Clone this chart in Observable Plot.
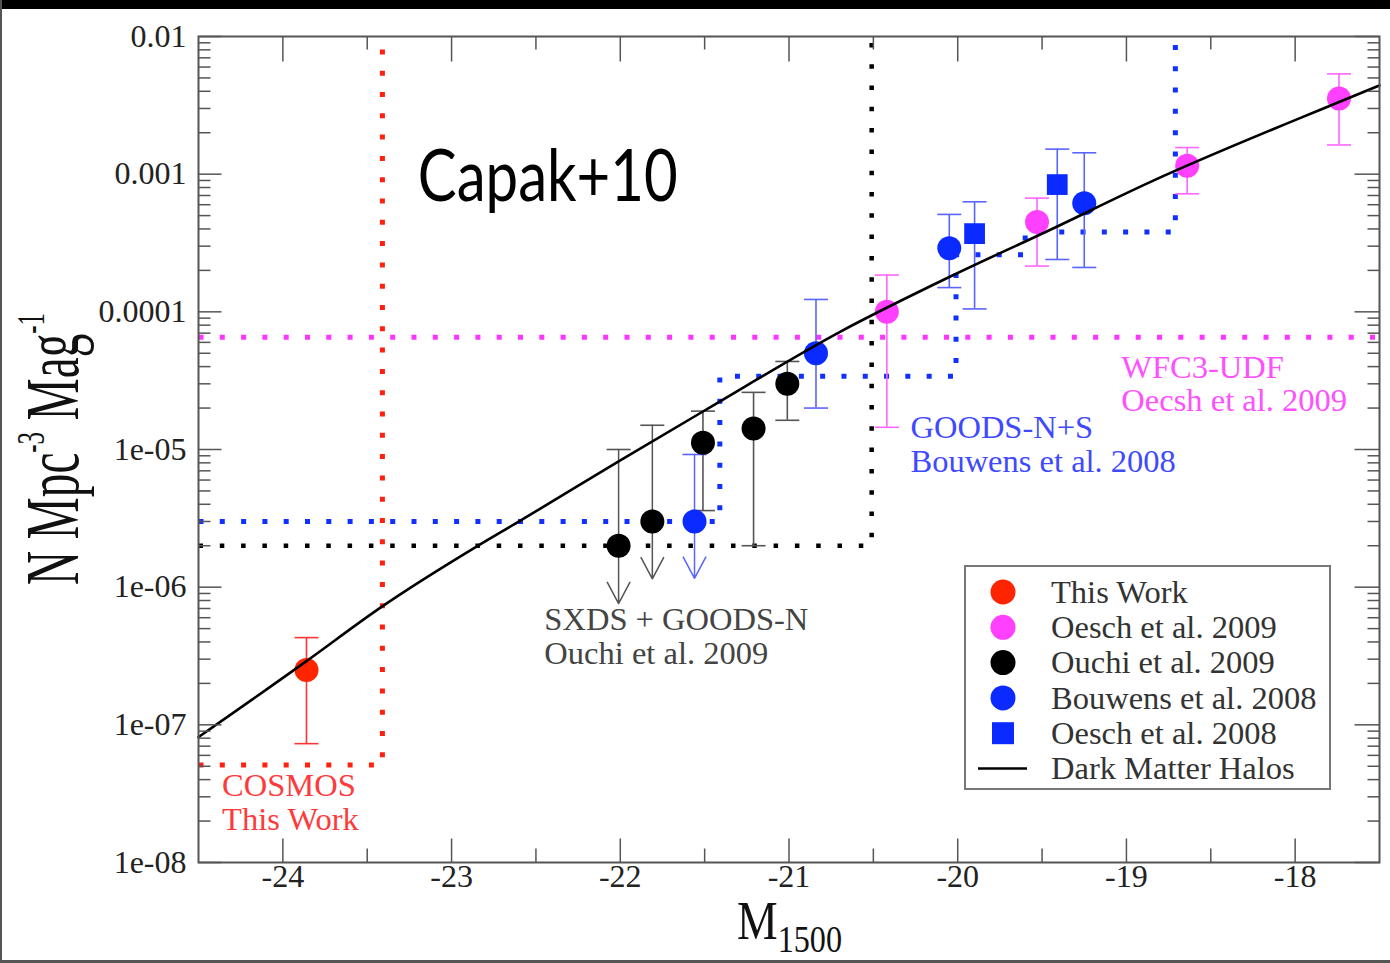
<!DOCTYPE html>
<html><head><meta charset="utf-8">
<script src="https://cdn.jsdelivr.net/npm/d3@7"></script>
<script src="https://cdn.jsdelivr.net/npm/@observablehq/plot@0.6"></script>
<style>
html,body{margin:0;padding:0;background:#fff;}
#wrap{position:relative;width:1390px;height:963px;overflow:hidden;background:#fff;}
#wrap svg{position:absolute;left:0;top:0;}
.deco{position:absolute;}
</style></head><body>
<div id="wrap"></div>
<script>
// ---------------- data ----------------
// This Work (COSMOS)
const thisWorkM  = [-23.86];
const thisWorkN  = [2.5e-7];
const thisWorkLo = [7.3e-8];
const thisWorkHi = [4.3e-7];

// Oesch et al. 2009 (WFC3-UDF)
const oesch09M  = [-20.42, -19.53, -18.64, -17.74];
const oesch09N  = [1.0e-4, 4.5e-4, 1.15e-3, 3.55e-3];
const oesch09Lo = [1.45e-5, 2.15e-4, 7.2e-4, 1.63e-3];
const oesch09Hi = [1.85e-4, 6.7e-4, 1.56e-3, 5.35e-3];

// Ouchi et al. 2009 (SXDS + GOODS-N)
const ouchiM     = [-22.01, -21.81, -21.51, -21.21, -21.01];
const ouchiN     = [2.0e-6, 3.0e-6, 1.12e-5, 1.42e-5, 3.0e-5];
const ouchiLo    = [null, null, 3.6e-6, 2.0e-6, 1.63e-5];
const ouchiHi    = [1.0e-5, 1.5e-5, 1.9e-5, 2.6e-5, 4.36e-5];
const ouchiLimit = [7.6e-7, 1.15e-6, null, null, null];

// Bouwens et al. 2008 (GOODS-N+S)
const bouwensM     = [-21.56, -20.84, -20.05, -19.25];
const bouwensN     = [3.0e-6, 5.0e-5, 2.9e-4, 6.15e-4];
const bouwensLo    = [null, 2.0e-5, 1.5e-4, 2.1e-4];
const bouwensHi    = [9.2e-6, 1.23e-4, 5.1e-4, 1.43e-3];
const bouwensLimit = [1.16e-6, null, null, null];

// Oesch et al. 2008
const oesch08M  = [-19.90, -19.41];
const oesch08N  = [3.7e-4, 8.4e-4];
const oesch08Lo = [1.05e-4, 2.4e-4];
const oesch08Hi = [6.3e-4, 1.52e-3];

// Dark matter halos model curve
const haloM = [-24.5, -23.86, -23.43, -22.84, -22.6, -22.0, -21.5, -20.7, -20.05, -19.46, -18.86, -17.75, -17.5];
const haloN = [8.15e-8, 2.9e-7, 6.98e-7, 2.01e-6, 3.0e-6, 8.34e-6, 1.92e-5, 7.13e-5, 1.79e-4, 3.9e-4, 8.75e-4, 3.3e-3, 4.41e-3];

// Survey limits (dotted)
const cosmosM = [-24.5, -23.41, -23.41];
const cosmosN = [5.1e-8, 5.1e-8, 1e-2];
const udfM = [-24.5, -17.5];
const udfN = [6.55e-5, 6.55e-5];
const sxdsM = [-24.5, -20.51, -20.51];
const sxdsN = [2.0e-6, 2.0e-6, 1e-2];
const goodsM = [-24.5, -21.41, -21.41, -20.01, -20.01, -19.6, -19.6, -18.71, -18.71];
const goodsN = [3.0e-6, 3.0e-6, 3.4e-5, 3.4e-5, 2.6e-4, 2.6e-4, 3.8e-4, 3.8e-4, 1e-2];

// Axis ticks
const xTicks = [-24, -23, -22, -21, -20, -19, -18];
const xMinorTicks = [-23.5, -22.5, -21.5, -20.5, -19.5, -18.5];
const yTicks = [1e-8, 1e-7, 1e-6, 1e-5, 1e-4, 1e-3, 1e-2];
const yTickLabels = ["1e-08", "1e-07", "1e-06", "1e-05", "0.0001", "0.001", "0.01"];

// Annotations
const noteText = ["COSMOS\nThis Work", "SXDS + GOODS-N\nOuchi et al. 2009", "GOODS-N+S\nBouwens et al. 2008", "WFC3-UDF\nOecsh et al. 2009"];
const noteM = [-24.36, -22.45, -20.28, -19.03];
const noteN = [1.73e-8, 2.78e-7, 6.87e-6, 1.9e-5];
const titleText = ["Capak+10"];
const titleM = [-23.2];
const titleN = [6.34e-4];

// Legend
const legendLabels = ["This Work", "Oesch et al. 2009", "Ouchi et al. 2009", "Bouwens et al. 2008", "Oesch et al. 2008", "Dark Matter Halos"];

// ---------------- styles ----------------
const C = {
  red: "#ff2400", redBar: "#ff3535", redText: "#ff3a3a",
  mag: "#ff40ff", magBar: "#ff66ff", magText: "#ff50ff",
  blk: "#000000", blkBar: "#555555", blkText: "#444444",
  blu: "#0a2aff", bluBar: "#5a64ff", bluText: "#3f4aff",
  axis: "#555555"
};
const serif = "'Liberation Serif', 'Times New Roman', serif";

// ---------------- helpers ----------------
const rows = (M, N, lo, hi, lim) => M.map((m, i) => ({M: m, N: N[i], lo: lo ? lo[i] : null, hi: hi ? hi[i] : null, lim: lim ? lim[i] : null}));
const line = (M, N) => M.map((m, i) => ({M: m, N: N[i]}));
const seg = (x1, y1, x2, y2) => ({draw(ctx) { ctx.moveTo(x1, y1); ctx.lineTo(x2, y2); }});
const cap = seg(-12, 0, 12, 0);

const series = [
  {data: rows(thisWorkM, thisWorkN, thisWorkLo, thisWorkHi, null), fill: C.red, bar: C.redBar, symbol: "circle"},
  {data: rows(oesch09M, oesch09N, oesch09Lo, oesch09Hi, null), fill: C.mag, bar: C.magBar, symbol: "circle"},
  {data: rows(ouchiM, ouchiN, ouchiLo, ouchiHi, ouchiLimit), fill: C.blk, bar: C.blkBar, symbol: "circle"},
  {data: rows(bouwensM, bouwensN, bouwensLo, bouwensHi, bouwensLimit), fill: C.blu, bar: C.bluBar, symbol: "circle"},
  {data: rows(oesch08M, oesch08N, oesch08Lo, oesch08Hi, null), fill: C.blu, bar: C.bluBar, symbol: "square"}
];

const dotted = {strokeWidth: 5, strokeDasharray: "5,16.3", strokeLinecap: "butt", strokeLinejoin: "miter"};

const marks = [
  Plot.line(line(udfM, udfN), {x: "M", y: "N", stroke: "#ff33ff", ...dotted}),
  Plot.line(line(sxdsM, sxdsN), {x: "M", y: "N", stroke: "#000", strokeWidth: 4.5, strokeDasharray: "4.5,16.8", strokeLinecap: "butt", strokeLinejoin: "miter"}),
  Plot.line(line(goodsM, goodsN), {x: "M", y: "N", stroke: "#1030ff", ...dotted}),
  Plot.line(line(cosmosM, cosmosN), {x: "M", y: "N", stroke: "#ff2010", ...dotted})
];

for (const s of series) {
  const withLo = s.data.filter(d => d.lo != null);
  const withLim = s.data.filter(d => d.lim != null);
  marks.push(
    Plot.ruleX(withLo, {x: "M", y1: "lo", y2: "hi", stroke: s.bar, strokeWidth: 1.6}),
    Plot.arrow(withLim, {x1: "M", x2: "M", y1: "hi", y2: "lim", stroke: s.bar, strokeWidth: 1.5, headLength: 24, headAngle: 56}),
    Plot.dot(s.data, {x: "M", y: "hi", symbol: cap, stroke: s.bar, strokeWidth: 1.6, fill: "none"}),
    Plot.dot(withLo, {x: "M", y: "lo", symbol: cap, stroke: s.bar, strokeWidth: 1.6, fill: "none"})
  );
}
for (const s of series) {
  marks.push(Plot.dot(s.data, {x: "M", y: "N", symbol: s.symbol, r: s.symbol === "square" ? 11.7 : 12, fill: s.fill, stroke: "none"}));
}
marks.push(
  Plot.line(line(haloM, haloN), {x: "M", y: "N", stroke: "#000", strokeWidth: 2.6, curve: "monotone-x"})
);

// annotations
const noteColors = [C.redText, C.blkText, C.bluText, C.magText];
noteText.forEach((t, i) => {
  marks.push(Plot.text([t], {x: [noteM[i]], y: [noteN[i]], text: d => d, textAnchor: "start", lineAnchor: "bottom", lineHeight: 1.03, fontSize: 32.5, fontFamily: serif, fill: noteColors[i]}));
});
marks.push(Plot.text(titleText, {x: titleM, y: titleN, text: d => d, textAnchor: "start", lineAnchor: "bottom", fontSize: 72, fontFamily: "Lato, 'Open Sans', sans-serif", fill: "#000", className: "capak"}));

// axes: ticks (inward, on all four sides) and labels
const yMinor = d3.scaleLog().domain([1e-8, 1e-2]).ticks().filter(v => !yTicks.some(m => Math.abs(v / m - 1) < 1e-6));
const tk = {stroke: C.axis, strokeWidth: 1.5, fill: "none"};
marks.push(
  Plot.dot(yTicks, {y: d => d, frameAnchor: "left", symbol: seg(0, 0, 23, 0), ...tk}),
  Plot.dot(yMinor, {y: d => d, frameAnchor: "left", symbol: seg(0, 0, 12, 0), ...tk}),
  Plot.dot(yTicks, {y: d => d, frameAnchor: "right", symbol: seg(0, 0, -25, 0), ...tk}),
  Plot.dot(yMinor, {y: d => d, frameAnchor: "right", symbol: seg(0, 0, -12, 0), ...tk}),
  Plot.dot(xTicks, {x: d => d, frameAnchor: "bottom", symbol: seg(0, 0, 0, -24), ...tk}),
  Plot.dot(xMinorTicks, {x: d => d, frameAnchor: "bottom", symbol: seg(0, 0, 0, -14), ...tk}),
  Plot.dot(xTicks, {x: d => d, frameAnchor: "top", symbol: seg(0, 0, 0, 25), ...tk}),
  Plot.dot(xMinorTicks, {x: d => d, frameAnchor: "top", symbol: seg(0, 0, 0, 13), ...tk}),
  Plot.text(yTicks, {y: d => d, text: (d, i) => yTickLabels[i], frameAnchor: "left", dx: -12, textAnchor: "end", fontSize: 32, fontFamily: serif, fill: "#222"}),
  Plot.text(xTicks, {x: d => d, text: d => String(d), frameAnchor: "bottom", dy: 24, fontSize: 32, fontFamily: serif, fill: "#222"}),
  Plot.frame({stroke: C.axis, strokeWidth: 2})
);

const chart = Plot.plot({
  width: 1390,
  height: 963,
  marginLeft: 198,
  marginRight: 11,
  marginTop: 36,
  marginBottom: 101,
  x: {domain: [-24.5, -17.5], axis: null},
  y: {type: "log", domain: [1e-8, 1e-2], axis: null},
  style: {background: "white", fontFamily: serif, overflow: "visible"},
  marks
});

const wrap = document.getElementById("wrap");
wrap.appendChild(chart);
const svg = d3.select(chart);

// compress the title like the original
svg.selectAll(".capak text").attr("textLength", 260).attr("lengthAdjust", "spacingAndGlyphs");

// y axis label
const yl = svg.append("text").attr("font-family", serif).attr("font-size", 76).attr("fill", "#111").attr("text-anchor", "middle");
yl.append("tspan").text("N Mpc");
yl.append("tspan").attr("font-size", 40).attr("dy", -34).text("-3");
yl.append("tspan").attr("dy", 34).text(" Mag");
yl.append("tspan").attr("font-size", 40).attr("dy", -34).text("-1");
const ylw = yl.node().getBBox().width;
yl.attr("transform", `translate(78,449) rotate(-90) scale(${272 / ylw},1)`);

// x axis label
const xl = svg.append("text").attr("font-family", serif).attr("font-size", 54).attr("fill", "#111").attr("text-anchor", "start");
xl.append("tspan").text("M");
xl.append("tspan").attr("font-size", 38).attr("dy", 13).text("1500");
const xlw = xl.node().getBBox().width;
xl.attr("transform", `translate(737,939) scale(${105 / xlw},1)`);

// legend
const lg = svg.append("g").attr("font-family", serif).attr("font-size", 32.5).attr("fill", "#333").attr("text-anchor", "start");
lg.append("rect").attr("x", 965).attr("y", 566).attr("width", 365).attr("height", 223).attr("fill", "white").attr("stroke", "#777").attr("stroke-width", 2);
const legendFill = [C.red, C.mag, C.blk, C.blu, C.blu, C.blk];
legendLabels.forEach((lab, i) => {
  const cy = 592 + i * 35.3;
  if (i < 4) lg.append("circle").attr("cx", 1003).attr("cy", cy).attr("r", 12.5).attr("fill", legendFill[i]);
  else if (i === 4) lg.append("rect").attr("x", 992).attr("y", cy - 11).attr("width", 22).attr("height", 22).attr("fill", legendFill[i]);
  else lg.append("line").attr("x1", 978).attr("x2", 1027).attr("y1", cy).attr("y2", cy).attr("stroke", "#000").attr("stroke-width", 2.4);
  lg.append("text").attr("x", 1051).attr("y", cy).attr("dy", "0.33em").attr("text-anchor", "start").text(lab);
});

// screenshot frame decoration
const deco = (css) => { const d = document.createElement("div"); d.className = "deco"; d.style.cssText = css; wrap.appendChild(d); };
deco("left:0;top:0;width:1390px;height:9px;background:#000;");
deco("left:0;top:0;width:2px;height:963px;background:#555;");
deco("left:0;top:960px;width:1390px;height:3px;background:#555;");
</script>
</body></html>
